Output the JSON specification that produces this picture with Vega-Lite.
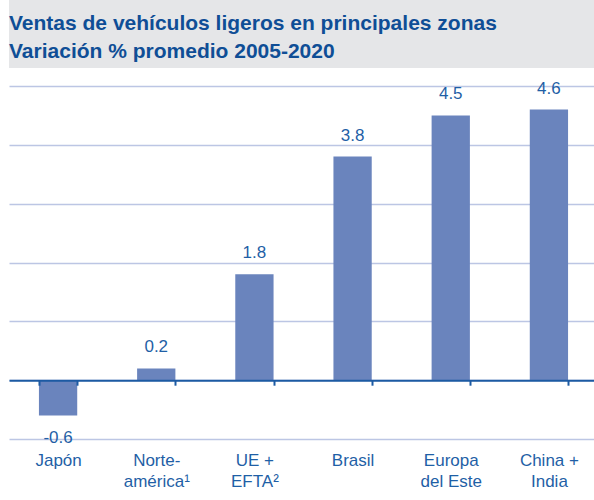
{
  "$schema": "https://vega.github.io/schema/vega-lite/v6.json",
  "padding": {"left": 9, "top": 0, "right": 0, "bottom": 0},
  "bounds": "flush",
  "spacing": 18,
  "config": {
    "font": "Liberation Sans",
    "view": {"stroke": null},
    "locale": {"number": {"decimal": ".", "thousands": ",", "grouping": [3], "currency": ["$", ""], "minus": "-"}}
  },
  "vconcat": [
    {
      "width": 585,
      "height": 68,
      "view": {"fill": "#e5e6e8", "stroke": null},
      "data": {"values": [{"titulo": "Ventas de vehículos ligeros en principales zonas\nVariación % promedio 2005-2020"}]},
      "mark": {"type": "text", "align": "left", "baseline": "alphabetic", "lineBreak": "\n", "lineHeight": 28, "fontSize": 21, "fontWeight": "bold", "color": "#0f4e96", "dy": 30},
      "encoding": {
        "text": {"field": "titulo"},
        "x": {"datum": 0, "type": "quantitative", "scale": {"domain": [0, 1]}, "axis": null},
        "y": {"datum": 1, "type": "quantitative", "scale": {"domain": [0, 1]}, "axis": null}
      }
    },
    {
      "width": 589,
      "height": 353,
      "data": {"values": [
        {"zona": "Japón", "valor": -0.6},
        {"zona": "Norte-|américa¹", "valor": 0.2},
        {"zona": "UE +|EFTA²", "valor": 1.8},
        {"zona": "Brasil", "valor": 3.8},
        {"zona": "Europa|del Este", "valor": 4.5},
        {"zona": "China +|India", "valor": 4.6}
      ]},
      "encoding": {
        "x": {
          "field": "zona", "type": "nominal", "sort": null,
          "scale": {"paddingInner": 0.61, "paddingOuter": 0.305},
          "axis": {
            "orient": "bottom", "offset": -58.8, "zindex": 1, "title": null,
            "domainColor": "#1c5aa3", "domainWidth": 2,
            "tickColor": "#1c5aa3", "tickWidth": 2, "tickSize": 5, "tickBand": "extent",
            "labelAngle": 0, "labelColor": "#1f5fa6", "labelFontSize": 17, "labelLineHeight": 21,
            "labelPadding": 67, "labelExpr": "split(datum.label, '|')", "grid": false
          }
        }
      },
      "layer": [
        {
          "mark": {"type": "bar", "color": "#6a84bd"},
          "encoding": {
            "y": {
              "field": "valor", "type": "quantitative",
              "scale": {"domain": [-1, 5], "nice": false},
              "axis": {"values": [-1, 0, 1, 2, 3, 4, 5], "grid": true, "gridColor": "#bcc6e4", "gridWidth": 1.5, "labels": false, "ticks": false, "domain": false, "title": null}
            }
          }
        },
        {
          "transform": [{"filter": "datum.valor >= 0"}],
          "mark": {"type": "text", "baseline": "alphabetic", "dy": -16, "fontSize": 17, "color": "#1f5fa6"},
          "encoding": {
            "y": {"field": "valor", "type": "quantitative"},
            "text": {"field": "valor", "type": "quantitative", "format": ".1f"}
          }
        },
        {
          "transform": [{"filter": "datum.valor < 0"}],
          "mark": {"type": "text", "baseline": "alphabetic", "dy": 28, "fontSize": 17, "color": "#1f5fa6"},
          "encoding": {
            "y": {"field": "valor", "type": "quantitative"},
            "text": {"field": "valor", "type": "quantitative", "format": ".1f"}
          }
        }
      ]
    }
  ]
}
